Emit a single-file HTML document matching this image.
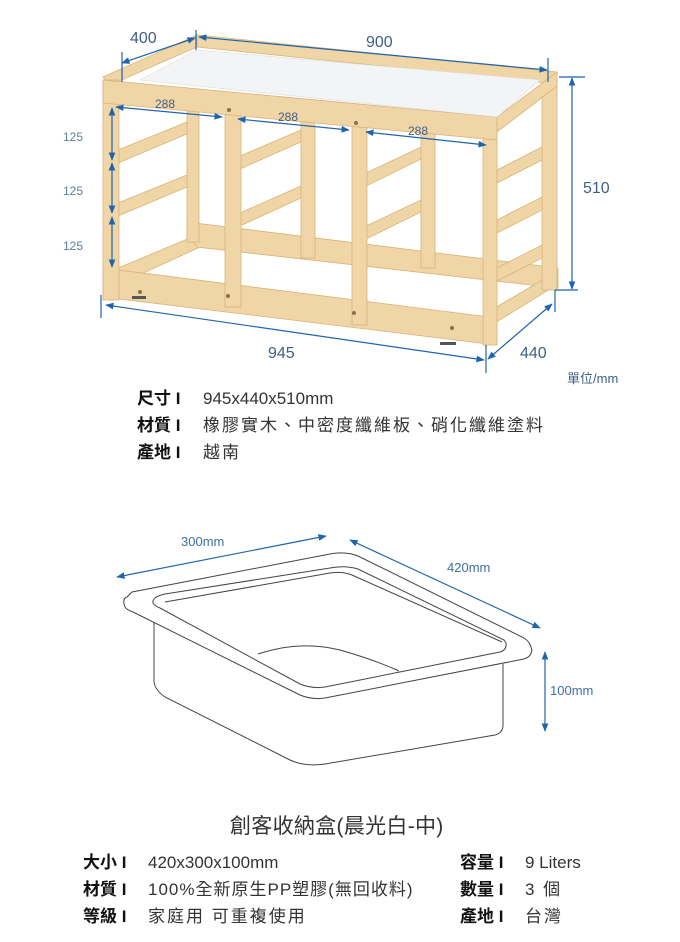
<!DOCTYPE html>
<html><head><meta charset="utf-8"><style>
html,body{margin:0;padding:0;background:#fff;}
body{width:680px;height:942px;position:relative;overflow:hidden;font-family:"Liberation Sans","Noto Sans CJK TC",sans-serif;}
svg{position:absolute;left:0;top:0;}
.t{position:absolute;white-space:nowrap;color:#333;font-size:17px;line-height:20px;}
.c{letter-spacing:2px;}
.b{position:absolute;white-space:nowrap;font-weight:bold;color:#111;font-size:17px;line-height:20px;}
</style></head><body>
<svg width="680" height="942" viewBox="0 0 680 942">
<defs>
<marker id="a" viewBox="0 0 10 10" refX="9" refY="5" markerWidth="7" markerHeight="7" orient="auto-start-reverse"><path d="M0,1 L10,5 L0,9 z" fill="#1f65ad"/></marker>
</defs>
<g fill="#f0d6a6" stroke="#d8b47a" stroke-width="0.8">
<polygon points="187,222 558,268 558,288 187,246"/>
<polygon points="118,268 190,238 198,248 124,282"/>
<polygon points="488,312 556,272 558,284 490,326"/>
<rect x="187" y="100" width="12" height="142"/>
<rect x="301" y="112" width="14" height="146"/>
<rect x="421" y="125" width="14" height="143"/>
<rect x="542" y="77" width="15" height="213"/>
<polygon points="197,35 557,72 557,84 197,47"/>
<polygon points="103,77 197,35 197,47 110,85"/>
<polygon points="497,117 557,72 557,86 497,132"/>
<polygon points="118,150 187,122 187,134 118,163"/>
<polygon points="118,203 187,175 187,187 118,216"/>
<polygon points="240,156 301,130 301,142 240,169"/>
<polygon points="240,213 301,186 301,198 240,226"/>
<polygon points="366,173 421,147 421,159 366,186"/>
<polygon points="366,226 421,200 421,212 366,239"/>
<polygon points="497,170 542,147 542,160 497,183"/>
<polygon points="497,220 542,197 542,210 497,233"/>
<polygon points="497,268 542,245 542,258 497,281"/>
<polygon points="103,268 497,318 497,345 103,297"/>
<rect x="103" y="80" width="16" height="220"/>
<rect x="225" y="97" width="16" height="210"/>
<rect x="352" y="110" width="15" height="215"/>
<rect x="483" y="120" width="14" height="225"/>
<polygon points="103,80 497,117 497,140 103,103"/>
</g>
<polygon points="140,80 197,50 540,80 497,117" fill="#f3f4f6" stroke="#ddd" stroke-width="0.6"/>
<g fill="#8a7050"><circle cx="140" cy="292" r="2"/><circle cx="228" cy="296" r="2"/><circle cx="354" cy="313" r="2"/><circle cx="452" cy="328" r="2"/><circle cx="229" cy="110" r="2"/><circle cx="356" cy="123" r="2"/></g>
<g fill="#555"><rect x="132" y="296" width="14" height="3"/><rect x="440" y="342" width="16" height="3"/></g>

<g stroke="#1f65ad" stroke-width="1.2" fill="none">
<line x1="122" y1="63" x2="195" y2="38" marker-start="url(#a)" marker-end="url(#a)"/>
<line x1="122" y1="52" x2="122" y2="82"/><line x1="196" y1="30" x2="196" y2="50"/>
<line x1="199" y1="37" x2="547" y2="70" marker-start="url(#a)" marker-end="url(#a)"/>
<line x1="548" y1="58" x2="548" y2="82"/>
<line x1="572" y1="78" x2="572" y2="289" marker-start="url(#a)" marker-end="url(#a)"/>
<line x1="559" y1="77" x2="585" y2="77"/><line x1="555" y1="290" x2="578" y2="290"/>
<line x1="106" y1="305" x2="484" y2="360" marker-start="url(#a)" marker-end="url(#a)"/>
<line x1="101" y1="295" x2="101" y2="318"/><line x1="486" y1="345" x2="486" y2="373"/>
<line x1="488" y1="359" x2="552" y2="304" marker-start="url(#a)" marker-end="url(#a)"/>
<line x1="555" y1="290" x2="555" y2="312"/>
<line x1="116" y1="107" x2="222" y2="117" marker-start="url(#a)" marker-end="url(#a)"/>
<line x1="238" y1="119" x2="349" y2="130" marker-start="url(#a)" marker-end="url(#a)"/>
<line x1="366" y1="132" x2="486" y2="145" marker-start="url(#a)" marker-end="url(#a)"/>
<line x1="112" y1="108" x2="112" y2="160" marker-start="url(#a)" marker-end="url(#a)"/>
<line x1="112" y1="163" x2="112" y2="213" marker-start="url(#a)" marker-end="url(#a)"/>
<line x1="112" y1="217" x2="112" y2="267" marker-start="url(#a)" marker-end="url(#a)"/>
</g>
<g fill="#3f5f85" font-family="Liberation Sans, sans-serif">
<text x="130" y="43" font-size="16">400</text>
<text x="366" y="47" font-size="16">900</text>
<text x="583" y="193" font-size="16">510</text>
<text x="268" y="358" font-size="16">945</text>
<text x="520" y="358" font-size="16">440</text>
<text x="155" y="108" font-size="12">288</text>
<text x="278" y="121" font-size="12">288</text>
<text x="408" y="135" font-size="12">288</text>
<g fill="#5c7da3" font-size="12"><text x="63" y="141">125</text><text x="63" y="195">125</text><text x="63" y="250">125</text></g>
<text x="567" y="383" font-size="13" font-family="Liberation Sans, Noto Sans CJK TC, sans-serif">單位/mm</text>
</g>

<g fill="#fff" stroke="#444" stroke-width="1">
<path d="M154,608 L154,682 Q155,690 165,697 L290,760 Q305,767 325,764 L495,735 Q503,733 503,725 L503,664"/>
<path d="M127,597 Q123,598 124,604 L125,607 Q127,610 133,612 L300,695 Q312,700 325,698 L524,659 Q531,657 532,650 L531,647 Q530,642 524,638 L358,556 Q345,551 330,554 L132,592 Z"/>
<path d="M154,599 Q150,604 160,608 L300,684 Q312,689 325,687 L500,652 Q507,650 506,643 L504,640 L358,569 Q345,565 330,568 L165,594 Q156,596 154,599 Z"/>
<path d="M165,602 L330,573 Q342,571 352,575 L502,642" fill="none"/>
<path d="M258,654 Q300,640 340,650 Q375,660 399,671" fill="none"/>
</g>
<g stroke="#1f65ad" stroke-width="1.2" fill="none">
<line x1="117" y1="577" x2="326" y2="536" marker-start="url(#a)" marker-end="url(#a)"/>
<line x1="350" y1="540" x2="540" y2="628" marker-start="url(#a)" marker-end="url(#a)"/>
<line x1="545" y1="652" x2="545" y2="731" marker-start="url(#a)" marker-end="url(#a)"/>
</g>
<g fill="#3f6fa5" font-size="13" font-family="Liberation Sans, sans-serif">
<text x="181" y="546">300mm</text><text x="447" y="572">420mm</text><text x="550" y="695">100mm</text>
</g>
</svg>

<div class="b" style="left:137px;top:389px;">尺寸 I</div><div class="t" style="left:203px;top:389px;">945x440x510mm</div>
<div class="b" style="left:137px;top:416px;">材質 I</div><div class="t c" style="left:203px;top:416px;">橡膠實木、中密度纖維板、硝化纖維塗料</div>
<div class="b" style="left:137px;top:443px;">產地 I</div><div class="t c" style="left:203px;top:443px;">越南</div>

<div class="t" style="left:230px;top:815px;font-size:21px;line-height:24px;letter-spacing:0.3px;">創客收納盒(晨光白-中)</div>

<div class="b" style="left:83px;top:853px;">大小 I</div><div class="t" style="left:148px;top:853px;">420x300x100mm</div>
<div class="b" style="left:83px;top:880px;">材質 I</div><div class="t" style="left:148px;top:880px;letter-spacing:1px;">100%全新原生PP塑膠(無回收料)</div>
<div class="b" style="left:83px;top:907px;">等級 I</div><div class="t c" style="left:148px;top:907px;">家庭用 可重複使用</div>
<div class="b" style="left:460px;top:853px;">容量 I</div><div class="t" style="left:525px;top:853px;">9 Liters</div>
<div class="b" style="left:460px;top:880px;">數量 I</div><div class="t c" style="left:525px;top:880px;">3 個</div>
<div class="b" style="left:460px;top:907px;">產地 I</div><div class="t c" style="left:525px;top:907px;">台灣</div>
</body></html>
